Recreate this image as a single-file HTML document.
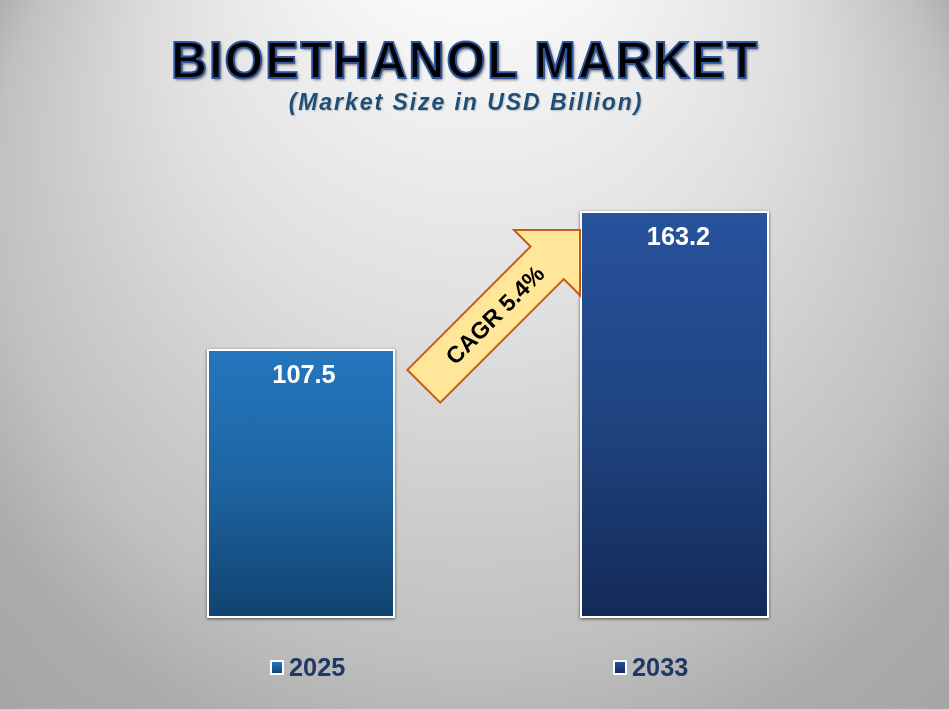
<!DOCTYPE html>
<html>
<head>
<meta charset="utf-8">
<title>Bioethanol Market</title>
<style>
  html, body { margin: 0; padding: 0; }
  body {
    width: 949px; height: 709px; overflow: hidden; position: relative;
    font-family: "Liberation Sans", sans-serif;
    background: #c8c8c8 radial-gradient(ellipse 700px 1100px at 474px -60px, #fbfbfb 0%, #e6e6e6 35%, #cfcfcf 60%, #b4b4b4 85%, #a6a6a6 100%);
  }
  .abs { position: absolute; }
  .txt { will-change: transform; }
  #title {
    left: 0; width: 930px; top: 31.5px; text-align: center;
    font-weight: bold; font-size: 50px; line-height: 58px; letter-spacing: 1.8px;
    color: #000; white-space: nowrap;
    -webkit-text-stroke: 1.9px #2c549c;
    text-shadow: 1.5px 2px 3px rgba(0,0,0,0.5);
    transform: scaleY(1.02); transform-origin: 50% 50%;
  }
  #subtitle {
    left: 0; width: 932px; top: 89px; text-align: center;
    font-weight: bold; font-style: italic; font-size: 23.1px; line-height: 26px; letter-spacing: 1.9px;
    color: #1f4e79; white-space: nowrap;
    text-shadow: 1px 1px 1.5px rgba(0,0,0,0.2);
  }
  .bar { box-sizing: border-box; border: 2px solid #fff; box-shadow: 0 1px 3px rgba(0,0,0,0.6); }
  #bar1 { left: 207px; top: 349px; width: 188px; height: 269px; background: linear-gradient(#2576bf 0%, #1d64a1 50%, #114370 100%); }
  #bar2 { left: 580px; top: 211px; width: 189px; height: 407px; background: linear-gradient(#27529d 0%, #204481 50%, #132a58 100%); }
  .val { color: #fff; font-weight: bold; font-size: 25.3px; line-height: 26px; text-align: center; white-space: nowrap; }
  #v1 { left: 210px; width: 188px; top: 361px; }
  #v2 { left: 584px; width: 189px; top: 223px; }
  .leg { color: #1f3864; font-weight: bold; font-size: 25.3px; line-height: 28px; white-space: nowrap; }
  .sw { box-sizing: border-box; width: 14px; height: 15px; border: 2px solid #fff; }
  #cagr {
    left: 425px; top: 300.3px; width: 140px; height: 30px; text-align: center;
    font-weight: bold; font-size: 23.3px; line-height: 30px; color: #000; white-space: nowrap;
    transform: rotate(-45deg); transform-origin: 50% 50%;
  }
</style>
</head>
<body>
  <svg class="abs" style="left:0;top:0" width="949" height="709" viewBox="0 0 949 709">
    <defs>
      <radialGradient id="bg" gradientUnits="userSpaceOnUse" cx="0" cy="0" r="1" fx="0" fy="-0.97" gradientTransform="translate(474.5 384.566) scale(685.072 660.403)">
        <stop offset="0" stop-color="#ffffff"/>
        <stop offset="0.15" stop-color="#ffffff"/>
        <stop offset="0.30" stop-color="#eeeeee"/>
        <stop offset="0.45" stop-color="#dfdfdf"/>
        <stop offset="0.60" stop-color="#cccccc"/>
        <stop offset="0.70" stop-color="#c0c0c0"/>
        <stop offset="0.80" stop-color="#acacac"/>
        <stop offset="0.90" stop-color="#a6a6a6"/>
        <stop offset="1" stop-color="#8f8f8f"/>
      </radialGradient>
    </defs>
    <rect x="0" y="0" width="949" height="709" fill="url(#bg)"/>
  </svg>
  <div id="title" class="abs txt">BIOETHANOL MARKET</div>
  <div id="subtitle" class="abs txt">(Market Size in USD Billion)</div>


  <div id="bar1" class="abs bar"></div>
  <div id="bar2" class="abs bar"></div>
  <svg class="abs" style="left:0;top:0" width="949" height="709" viewBox="0 0 949 709">
    <polygon points="407.4,369.9 530.5,246.6 514,230 580,230 580,295.3 563.8,279.1 440.2,402.7"
             fill="#ffe699" stroke="#c55a11" stroke-width="2" stroke-linejoin="miter"/>
  </svg>
  <div id="cagr" class="abs">CAGR 5.4%</div>
  <div id="v1" class="abs val txt">107.5</div>
  <div id="v2" class="abs val txt">163.2</div>

  <div class="abs sw" style="left:270px;top:660px;background:linear-gradient(#2576bf,#114370)"></div>
  <div class="abs leg txt" style="left:288.5px;top:653px">2025</div>
  <div class="abs sw" style="left:613px;top:660px;background:linear-gradient(#27529d,#132a58)"></div>
  <div class="abs leg txt" style="left:631.5px;top:653px">2033</div>
</body>
</html>
